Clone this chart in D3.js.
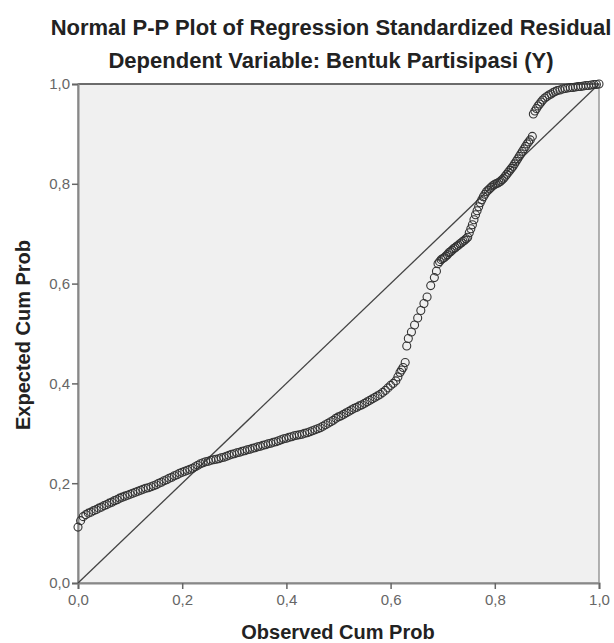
<!DOCTYPE html>
<html>
<head>
<meta charset="utf-8">
<script src="https://cdn.jsdelivr.net/npm/d3@7"></script>
<style>
  body { margin: 0; background: #fff; }
  svg { display: block; }
  text { font-family: "Liberation Sans", Arial, sans-serif; }
</style>
</head>
<body>
<div id="container"></div>
<script>
/* chart text */
const TITLE = "Normal P-P Plot of Regression Standardized Residual"
const SUBTITLE = "Dependent Variable: Bentuk Partisipasi (Y)"
const XLABEL = "Observed Cum Prob"
const YLABEL = "Expected Cum Prob"
const tickValues = [0, 0.2, 0.4, 0.6, 0.8, 1.0]
const tickLabels = ["0,0", "0,2", "0,4", "0,6", "0,8", "1,0"]

/* points: observed vs expected cumulative probability */
const obsCum = [
  0.000, 0.005, 0.010, 0.015, 0.020, 0.025, 0.030, 0.035, 0.040, 0.045,
  0.050, 0.055, 0.060, 0.065, 0.070, 0.075, 0.080, 0.085, 0.090, 0.095,
  0.100, 0.105, 0.110, 0.115, 0.120, 0.125, 0.130, 0.135, 0.140, 0.145,
  0.150, 0.155, 0.160, 0.165, 0.170, 0.175, 0.180, 0.185, 0.190, 0.195,
  0.200, 0.205, 0.210, 0.215, 0.220, 0.225, 0.230, 0.235, 0.240, 0.245,
  0.250, 0.255, 0.260, 0.265, 0.270, 0.275, 0.280, 0.285, 0.290, 0.295,
  0.300, 0.305, 0.310, 0.315, 0.320, 0.325, 0.330, 0.335, 0.340, 0.345,
  0.350, 0.355, 0.360, 0.365, 0.370, 0.375, 0.380, 0.385, 0.390, 0.395,
  0.400, 0.405, 0.410, 0.415, 0.420, 0.425, 0.430, 0.435, 0.440, 0.445,
  0.450, 0.455, 0.460, 0.465, 0.470, 0.475, 0.480, 0.485, 0.490, 0.495,
  0.500, 0.505, 0.510, 0.515, 0.520, 0.525, 0.530, 0.535, 0.540, 0.545,
  0.550, 0.555, 0.560, 0.565, 0.570, 0.575, 0.580, 0.585, 0.590, 0.595,
  0.600, 0.605, 0.610, 0.614, 0.618, 0.621, 0.624, 0.628,
  0.631, 0.634, 0.640, 0.646, 0.652, 0.658, 0.664, 0.670, 0.677, 0.684,
  0.688, 0.691, 0.694, 0.697, 0.700, 0.703, 0.706, 0.709, 0.712, 0.715,
  0.718, 0.721, 0.724, 0.727, 0.730, 0.733, 0.736, 0.739, 0.742, 0.745,
  0.748, 0.751, 0.754, 0.757, 0.760, 0.763, 0.766, 0.769, 0.772, 0.775,
  0.778, 0.781, 0.784, 0.787, 0.790, 0.793, 0.796, 0.799, 0.802, 0.805,
  0.808, 0.811, 0.814, 0.817, 0.820, 0.823, 0.826, 0.829, 0.832, 0.835,
  0.838, 0.841, 0.844, 0.847, 0.850, 0.853, 0.856, 0.859, 0.862, 0.865,
  0.868, 0.872,
  0.874, 0.877, 0.880, 0.883, 0.886, 0.889, 0.892, 0.896, 0.900, 0.904,
  0.908, 0.912, 0.916, 0.920, 0.925, 0.930, 0.935, 0.940, 0.945, 0.950,
  0.955, 0.960, 0.965, 0.970, 0.975, 0.980, 0.985, 0.990, 0.995, 1.000
]
const expCum = [
  0.112, 0.125, 0.133, 0.137, 0.140, 0.142, 0.145, 0.147, 0.150, 0.152,
  0.155, 0.157, 0.160, 0.162, 0.165, 0.167, 0.170, 0.172, 0.174, 0.176,
  0.178, 0.180, 0.182, 0.184, 0.186, 0.188, 0.190, 0.191, 0.193, 0.195,
  0.197, 0.200, 0.202, 0.205, 0.207, 0.210, 0.212, 0.215, 0.217, 0.220,
  0.222, 0.224, 0.226, 0.228, 0.230, 0.233, 0.236, 0.239, 0.241, 0.243,
  0.244, 0.246, 0.247, 0.248, 0.249, 0.251, 0.252, 0.254, 0.256, 0.258,
  0.259, 0.261, 0.262, 0.264, 0.265, 0.267, 0.268, 0.270, 0.271, 0.273,
  0.274, 0.276, 0.277, 0.279, 0.280, 0.282, 0.283, 0.285, 0.287, 0.289,
  0.290, 0.292, 0.293, 0.295, 0.296, 0.297, 0.298, 0.300, 0.301, 0.303,
  0.305, 0.307, 0.309, 0.311, 0.314, 0.317, 0.320, 0.323, 0.326, 0.330,
  0.333, 0.335, 0.338, 0.341, 0.344, 0.347, 0.350, 0.352, 0.355, 0.357,
  0.360, 0.363, 0.366, 0.369, 0.372, 0.375, 0.378, 0.382, 0.386, 0.391,
  0.396, 0.400, 0.405, 0.413, 0.422, 0.427, 0.432, 0.442,
  0.475, 0.490, 0.503, 0.517, 0.531, 0.546, 0.560, 0.573, 0.596, 0.612,
  0.625, 0.640, 0.644, 0.648, 0.650, 0.652, 0.655, 0.658, 0.662, 0.664,
  0.667, 0.670, 0.672, 0.675, 0.677, 0.680, 0.682, 0.685, 0.687, 0.690,
  0.693, 0.702, 0.710, 0.718, 0.728, 0.738, 0.746, 0.754, 0.762, 0.768,
  0.774, 0.779, 0.784, 0.787, 0.790, 0.793, 0.796, 0.798, 0.800, 0.801,
  0.803, 0.805, 0.808, 0.811, 0.815, 0.819, 0.823, 0.827, 0.831, 0.835,
  0.840, 0.845, 0.850, 0.855, 0.860, 0.865, 0.870, 0.875, 0.880, 0.884,
  0.888, 0.895,
  0.940, 0.946, 0.951, 0.956, 0.960, 0.964, 0.968, 0.972, 0.975, 0.978,
  0.980, 0.983, 0.985, 0.987, 0.988, 0.990, 0.991, 0.992, 0.993, 0.993,
  0.994, 0.995, 0.995, 0.996, 0.997, 0.997, 0.998, 0.999, 0.999, 1.000
]

const width = 614
const height = 643
const plot = {left: 78, right: 599, top: 84, bottom: 583}

const svg = d3.select("#container")
              .append("svg")
              .attr("width", width)
              .attr("height", height);

const x = d3.scaleLinear().domain([0, 1]).range([plot.left, plot.right]);
const y = d3.scaleLinear().domain([0, 1]).range([plot.bottom, plot.top]);

/* titles */
svg.append("text")
   .attr("x", 331).attr("y", 35)
   .attr("text-anchor", "middle")
   .attr("font-size", 22).attr("font-weight", "bold").attr("fill", "#222")
   .text(TITLE);
svg.append("text")
   .attr("x", 331).attr("y", 68)
   .attr("text-anchor", "middle")
   .attr("font-size", 22).attr("font-weight", "bold").attr("fill", "#222")
   .text(SUBTITLE);

/* plot background and frame */
svg.append("rect")
   .attr("x", plot.left).attr("y", plot.top)
   .attr("width", plot.right - plot.left).attr("height", plot.bottom - plot.top)
   .attr("fill", "#f0f0f0")
   .attr("stroke", "#999").attr("stroke-width", 1.5);
svg.append("line")
   .attr("x1", plot.left).attr("x2", plot.right)
   .attr("y1", plot.top).attr("y2", plot.top)
   .attr("stroke", "#555").attr("stroke-width", 1.5);

/* axes */
const xAxis = d3.axisBottom(x).tickValues(tickValues)
                .tickFormat((d, i) => tickLabels[i]).tickSize(6).tickPadding(5);
const yAxis = d3.axisLeft(y).tickValues(tickValues)
                .tickFormat((d, i) => tickLabels[i]).tickSize(6).tickPadding(2);
const gx = svg.append("g")
              .attr("transform", "translate(0," + plot.bottom + ")")
              .call(xAxis);
const gy = svg.append("g")
              .attr("transform", "translate(" + plot.left + ",0)")
              .call(yAxis);
[gx, gy].forEach((g) => {
  g.select(".domain").attr("stroke", "#888").attr("stroke-width", 2);
  g.selectAll(".tick line").attr("stroke", "#666").attr("stroke-width", 1.5);
  g.selectAll(".tick text")
   .attr("font-family", "'Liberation Sans', Arial, sans-serif")
   .attr("font-size", 15).attr("fill", "#666");
});

/* axis titles */
svg.append("text")
   .attr("x", 338).attr("y", 639)
   .attr("text-anchor", "middle")
   .attr("font-size", 20).attr("font-weight", "bold").attr("fill", "#222")
   .text(XLABEL);
svg.append("text")
   .attr("transform", "translate(30,335) rotate(-90)")
   .attr("text-anchor", "middle")
   .attr("font-size", 20).attr("font-weight", "bold").attr("fill", "#222")
   .text(YLABEL);

/* reference diagonal */
svg.append("line")
   .attr("x1", x(0)).attr("y1", y(0))
   .attr("x2", x(1)).attr("y2", y(1))
   .attr("stroke", "#444").attr("stroke-width", 1.3);

/* points */
svg.append("g")
   .selectAll("circle")
   .data(obsCum)
   .enter()
   .append("circle")
   .attr("cx", (d) => x(d))
   .attr("cy", (d, i) => y(expCum[i]))
   .attr("r", 4)
   .attr("fill", "none")
   .attr("stroke", "#333")
   .attr("stroke-width", 1.1);
</script>
</body>
</html>
